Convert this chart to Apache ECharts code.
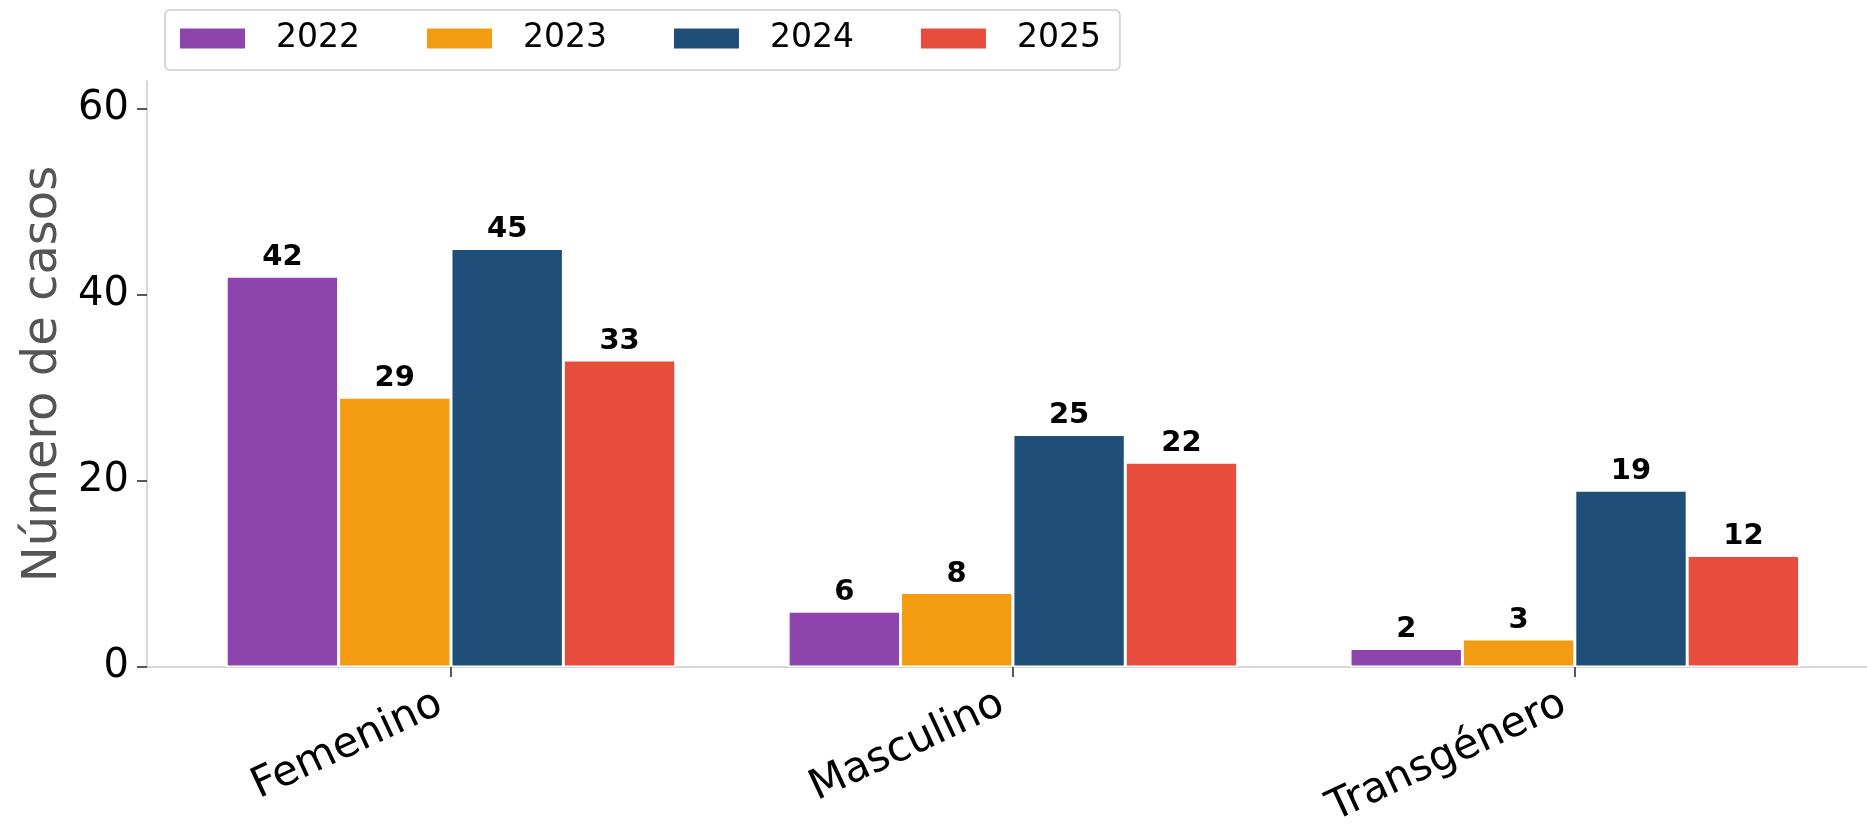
<!DOCTYPE html>
<html>
<head>
<meta charset="utf-8">
<script src="https://cdn.jsdelivr.net/npm/echarts@6/dist/echarts.min.js"></script>
<style>
html,body{margin:0;padding:0;background:#fff;}
#chart{width:1867px;height:826px;}
</style>
</head>
<body>
<div id="chart"></div>
<script>
const categories = ['Femenino', 'Masculino', 'Transgénero'];
const years = ['2022', '2023', '2024', '2025'];
const values2022 = [42, 6, 2];
const values2023 = [29, 8, 3];
const values2024 = [45, 25, 19];
const values2025 = [33, 22, 12];
const yTicks = [0, 20, 40, 60];
const colors = ['#8E44AD', '#F39C12', '#1F4E79', '#E74C3C'];

const seriesValues = [values2022, values2023, values2024, values2025];
const FONT = 'DejaVu Sans';

const chart = echarts.init(document.getElementById('chart'), null, {renderer: 'canvas'});
chart.setOption({
  backgroundColor: '#ffffff',
  animation: false,
  color: colors,
  textStyle: {fontFamily: FONT},
  legend: {
    left: 165,
    top: 10,
    data: years,
    itemWidth: 67,
    itemHeight: 22,
    itemGap: 65,
    icon: 'rect',
    borderColor: '#cccccc',
    borderWidth: 1.5,
    borderRadius: 5,
    padding: [12, 19, 15, 13],
    textStyle: {fontFamily: FONT, fontSize: 33, color: '#000', lineHeight: 33, padding: [0, 0, 0, 25]}
  },
  grid: {left: 147, top: 81, bottom: 159, right: 0, containLabel: false, outerBoundsMode: 'none'},
  xAxis: {
    type: 'value',
    min: -0.541,
    max: 2.52,
    splitLine: {show: false},
    axisLine: {show: true, onZero: false, lineStyle: {color: '#cccccc', width: 1.5}},
    axisTick: {show: true, customValues: [0, 1, 2], length: 10, lineStyle: {color: '#222', width: 1.5}},
    axisLabel: {
      customValues: [0, 1, 2],
      formatter: v => categories[Math.round(v)],
      rotate: 25,
      fontSize: 42,
      color: '#000',
      fontFamily: FONT,
      margin: 30,
      padding: [0, 12, 0, 0]
    }
  },
  yAxis: {
    type: 'value',
    min: 0,
    max: 63,
    name: 'Número de casos',
    nameLocation: 'middle',
    nameRotate: 90,
    nameGap: 79,
    nameTextStyle: {fontSize: 48, color: '#555555', fontFamily: FONT},
    splitLine: {show: false},
    axisLine: {show: true, onZero: false, lineStyle: {color: '#cccccc', width: 1.5}},
    axisTick: {show: true, customValues: yTicks, length: 10, lineStyle: {color: '#222', width: 1.5}},
    axisLabel: {customValues: yTicks, fontSize: 40, color: '#000', fontFamily: FONT, margin: 18}
  },
  series: years.map((y, i) => ({
    name: y,
    type: 'bar',
    barGap: '0%',
    barCategoryGap: '20%',
    data: seriesValues[i].map((v, j) => [j, v]),
    itemStyle: {color: colors[i], borderColor: '#ffffff', borderWidth: 1.5},
    label: {
      show: true,
      position: 'top',
      distance: 4,
      formatter: p => p.value[1],
      fontSize: 29,
      fontWeight: 'bold',
      color: '#000',
      fontFamily: FONT
    }
  }))
});
</script>
</body>
</html>
